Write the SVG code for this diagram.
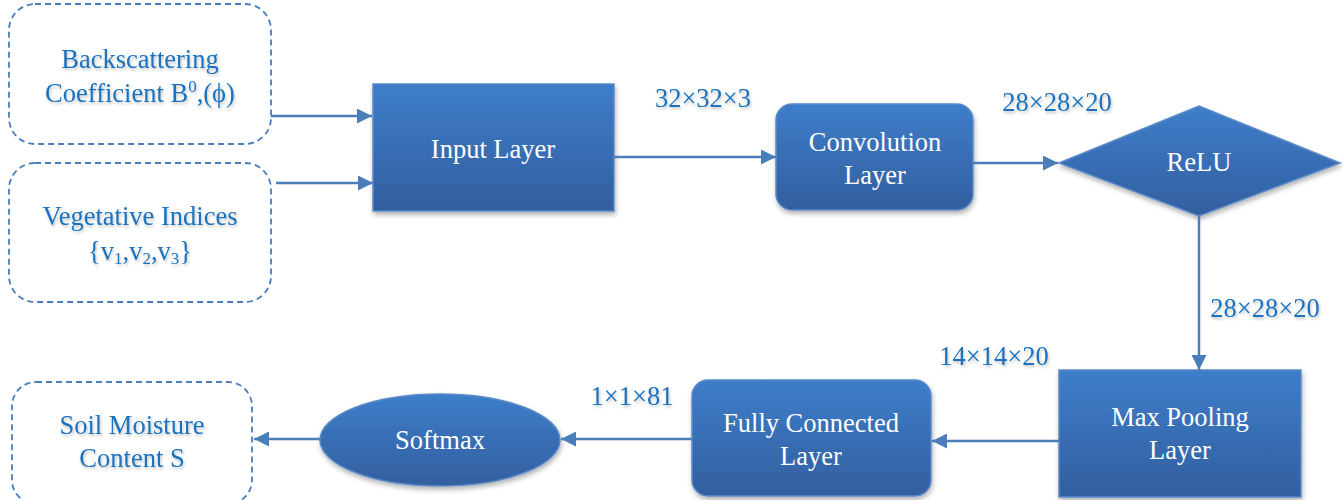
<svg xmlns="http://www.w3.org/2000/svg" width="1343" height="500" viewBox="0 0 1343 500" font-family="Liberation Serif, Times New Roman, serif">
<defs>
<linearGradient id="g" x1="0" y1="0" x2="0" y2="1">
<stop offset="0" stop-color="#3e7dca"/>
<stop offset="1" stop-color="#325f9f"/>
</linearGradient>
<filter id="sh" x="-10%" y="-10%" width="130%" height="140%">
<feDropShadow dx="1" dy="3" stdDeviation="2.5" flood-color="#000" flood-opacity="0.3"/>
</filter>
<filter id="tsh" x="-10%" y="-20%" width="130%" height="160%">
<feDropShadow dx="1" dy="2" stdDeviation="1.5" flood-color="#000" flood-opacity="0.25"/>
</filter>
<marker id="ah" viewBox="0 0 10 10" refX="10" refY="5" markerWidth="6" markerHeight="6" markerUnits="strokeWidth" orient="auto">
<path d="M0,0 L10,5 L0,10 Z" fill="#4a7ebb"/>
</marker>
</defs>
<style>
.dash{fill:#fff;stroke:#4a7ebb;stroke-width:1.8;stroke-dasharray:6,4}
.node{fill:url(#g);stroke:#5b8ac6;stroke-width:1.5;filter:url(#sh)}
.t{font-size:26.5px;text-anchor:middle}
.w{fill:#fff}
.b{fill:#1a72bf;filter:url(#tsh)}
.c{fill:none;stroke:#4a7ebb;stroke-width:2.5;marker-end:url(#ah)}
</style>
<g id="backscatter">
<rect class="dash" x="9" y="4" width="262" height="140" rx="26"/>
<text class="t b" x="140" y="68">Backscattering</text>
<text class="t b" x="140" y="102">Coefficient B<tspan font-size="17" dy="-10">0</tspan><tspan dy="10">,(ϕ)</tspan></text>
</g>
<g id="vegetative">
<rect class="dash" x="9" y="163" width="262" height="139" rx="26"/>
<text class="t b" x="140" y="225">Vegetative Indices</text>
<text class="t b" x="140" y="260">{v<tspan font-size="17" dy="4">1</tspan><tspan dy="-4">,v</tspan><tspan font-size="17" dy="4">2</tspan><tspan dy="-4">,v</tspan><tspan font-size="17" dy="4">3</tspan><tspan dy="-4">}</tspan></text>
</g>
<g id="input">
<rect class="node" x="373" y="84" width="241" height="127"/>
<text class="t w" x="493" y="158">Input Layer</text>
</g>
<g id="conv">
<rect class="node" x="776" y="104" width="197" height="106" rx="16"/>
<text class="t w" x="875" y="151">Convolution</text>
<text class="t w" x="875" y="184">Layer</text>
</g>
<g id="relu">
<polygon class="node" points="1059,163 1199,106 1340,163 1199,216"/>
<text class="t w" x="1199" y="171">ReLU</text>
</g>
<g id="maxpool">
<rect class="node" x="1059" y="370" width="242" height="127"/>
<text class="t w" x="1180" y="426">Max Pooling</text>
<text class="t w" x="1180" y="459">Layer</text>
</g>
<g id="fc">
<rect class="node" x="692" y="380" width="239" height="116" rx="16"/>
<text class="t w" x="811" y="432">Fully Connected</text>
<text class="t w" x="811" y="465">Layer</text>
</g>
<g id="softmax">
<ellipse class="node" cx="440" cy="440" rx="120" ry="46"/>
<text class="t w" x="440" y="449">Softmax</text>
</g>
<g id="soil">
<rect class="dash" x="12" y="382" width="240" height="122" rx="24"/>
<text class="t b" x="132" y="434">Soil Moisture</text>
<text class="t b" x="132" y="467">Content S</text>
</g>
<g id="labels">
<text class="t b" x="703" y="107">32×32×3</text>
<text class="t b" x="1057" y="111">28×28×20</text>
<text class="t b" x="1265" y="317">28×28×20</text>
<text class="t b" x="994" y="365">14×14×20</text>
<text class="t b" x="632" y="405">1×1×81</text>
</g>
<g id="connectors">
<line class="c" x1="271" y1="116" x2="372" y2="116"/>
<line class="c" x1="276" y1="183" x2="373" y2="183"/>
<line class="c" x1="614" y1="157" x2="776" y2="157"/>
<line class="c" x1="973" y1="163" x2="1058" y2="163"/>
<line class="c" x1="1199" y1="216" x2="1199" y2="370"/>
<line class="c" x1="1059" y1="441" x2="932" y2="441"/>
<line class="c" x1="692" y1="439" x2="561" y2="439"/>
<line class="c" x1="320" y1="439" x2="254" y2="439"/>
</g>
</svg>
